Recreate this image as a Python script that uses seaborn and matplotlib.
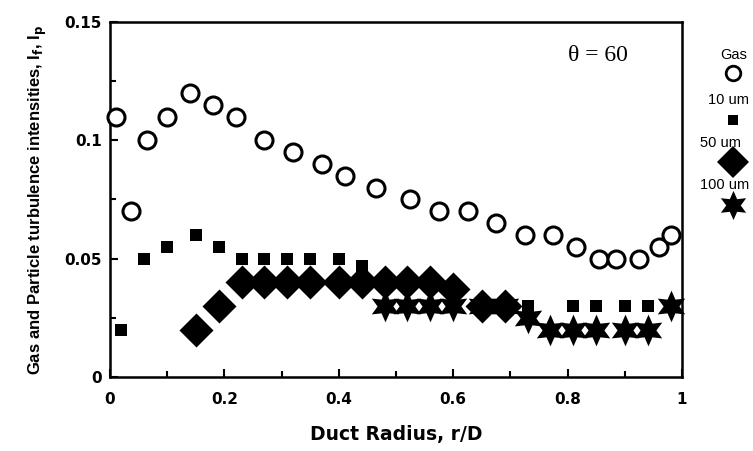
import matplotlib
matplotlib.use("Agg")
import matplotlib.pyplot as plt
import seaborn as sns
from matplotlib.lines import Line2D

# ---- data ----
gas_x = [0.01, 0.037, 0.065, 0.10, 0.14, 0.18, 0.22, 0.27, 0.32, 0.37, 0.41, 0.465,
         0.525, 0.575, 0.625, 0.675, 0.725, 0.775, 0.815, 0.855, 0.885, 0.925, 0.96, 0.98]
gas_y = [0.11, 0.07, 0.10, 0.11, 0.12, 0.115, 0.11, 0.10, 0.095, 0.09, 0.085, 0.08,
         0.075, 0.07, 0.07, 0.065, 0.06, 0.06, 0.055, 0.05, 0.05, 0.05, 0.055, 0.06]

p10_x = [0.02, 0.06, 0.10, 0.15, 0.19, 0.23, 0.27, 0.31, 0.35, 0.40, 0.44,
         0.73, 0.81, 0.85, 0.90, 0.94]
p10_y = [0.02, 0.05, 0.055, 0.06, 0.055, 0.05, 0.05, 0.05, 0.05, 0.05, 0.047,
         0.03, 0.03, 0.03, 0.03, 0.03]

p50_x = [0.15, 0.19, 0.23, 0.27, 0.31, 0.35, 0.40, 0.44, 0.48, 0.52, 0.56, 0.60, 0.65, 0.69]
p50_y = [0.02, 0.03, 0.04, 0.04, 0.04, 0.04, 0.04, 0.04, 0.04, 0.04, 0.04, 0.037, 0.03, 0.03]

p100_x = [0.48, 0.52, 0.56, 0.60, 0.65, 0.69, 0.73, 0.77, 0.81, 0.85, 0.90, 0.94, 0.98]
p100_y = [0.03, 0.03, 0.03, 0.03, 0.03, 0.03, 0.025, 0.02, 0.02, 0.02, 0.02, 0.02, 0.03]

x_ticks = [0, 0.2, 0.4, 0.6, 0.8, 1]
x_ticklabels = ["0", "0.2", "0.4", "0.6", "0.8", "1"]
y_ticks = [0, 0.05, 0.1, 0.15]
y_ticklabels = ["0", "0.05", "0.1", "0.15"]

sns.set_theme(style="ticks")
plt.rcParams["font.family"] = ["Liberation Sans", "DejaVu Sans"]
plt.rcParams["text.color"] = "black"
plt.rcParams["axes.labelcolor"] = "black"
plt.rcParams["xtick.color"] = "black"
plt.rcParams["ytick.color"] = "black"

fig = plt.figure(figsize=(7.53, 4.51), dpi=100)
ax = fig.add_axes([110 / 753, 1 - 377 / 451, (682 - 110) / 753, (377 - 22) / 451])

star = (6, 1, 0)
sns.scatterplot(x=gas_x, y=gas_y, ax=ax, marker="o", s=150, facecolor="white",
                edgecolor="black", linewidth=2.2, clip_on=False, zorder=3)
sns.scatterplot(x=p10_x, y=p10_y, ax=ax, marker="s", s=75, color="black",
                edgecolor="black", linewidth=0, clip_on=False, zorder=4)
sns.scatterplot(x=p50_x, y=p50_y, ax=ax, marker="D", s=300, color="black",
                edgecolor="black", linewidth=0, clip_on=False, zorder=5)
sns.scatterplot(x=p100_x, y=p100_y, ax=ax, marker=star, s=520, color="black",
                edgecolor="black", linewidth=0, clip_on=False, zorder=6)

bold_wide = ["DejaVu Sans"]
ax.set_xlim(0, 1)
ax.set_ylim(0, 0.15)
ax.set_xticks(x_ticks)
ax.set_xticklabels(x_ticklabels, fontsize=11, fontweight="bold", family=bold_wide)
ax.set_yticks(y_ticks)
ax.set_yticklabels(y_ticklabels, fontsize=11, fontweight="bold", family=bold_wide)
ax.set_xticks([0.1, 0.3, 0.5, 0.7, 0.9], minor=True)
ax.set_yticks([0.025, 0.075, 0.125], minor=True)
ax.tick_params(which="both", direction="in", width=1.5, colors="black")
ax.tick_params(which="major", length=6)
ax.tick_params(axis="x", which="major", pad=11)
ax.tick_params(axis="y", which="major", pad=6)
ax.tick_params(which="minor", length=4)
for s in ax.spines.values():
    s.set_linewidth(1.8)
    s.set_color("black")

ax.set_xlabel("Duct Radius, r/D", fontsize=13.5, fontweight="bold", family=bold_wide,
              labelpad=13)
ax.set_ylabel(r"Gas and Particle turbulence intensities, I$_\mathbf{f}$, I$_\mathbf{p}$",
              fontsize=12, fontweight="bold", labelpad=11)

ax.text(0.853, 0.905, "θ = 60", transform=ax.transAxes, fontsize=17,
        family=["Liberation Serif", "DejaVu Serif"], ha="center", va="center")

# custom legend on the right: label above marker
leg_items = [("Gas", 734, 55, 73, "o", 10.5, "white", 2.0),
             ("10 um", 729, 100, 120, "s", 7.5, "black", 0),
             ("50 um", 720, 143, 162, "D", 16, "black", 0),
             ("100 um", 725, 185, 205, star, 21, "black", 0)]
for label, tx, ty, my, mk, ms, fc, lw in leg_items:
    fig.text(tx / 753, 1 - ty / 451, label, fontsize=10.5, ha="center", va="center")
    fig.add_artist(Line2D([733 / 753], [1 - my / 451], marker=mk, markersize=ms,
                          markerfacecolor=fc, markeredgecolor="black",
                          markeredgewidth=lw, linestyle="none",
                          transform=fig.transFigure))

fig.savefig("out.png", dpi=100)
